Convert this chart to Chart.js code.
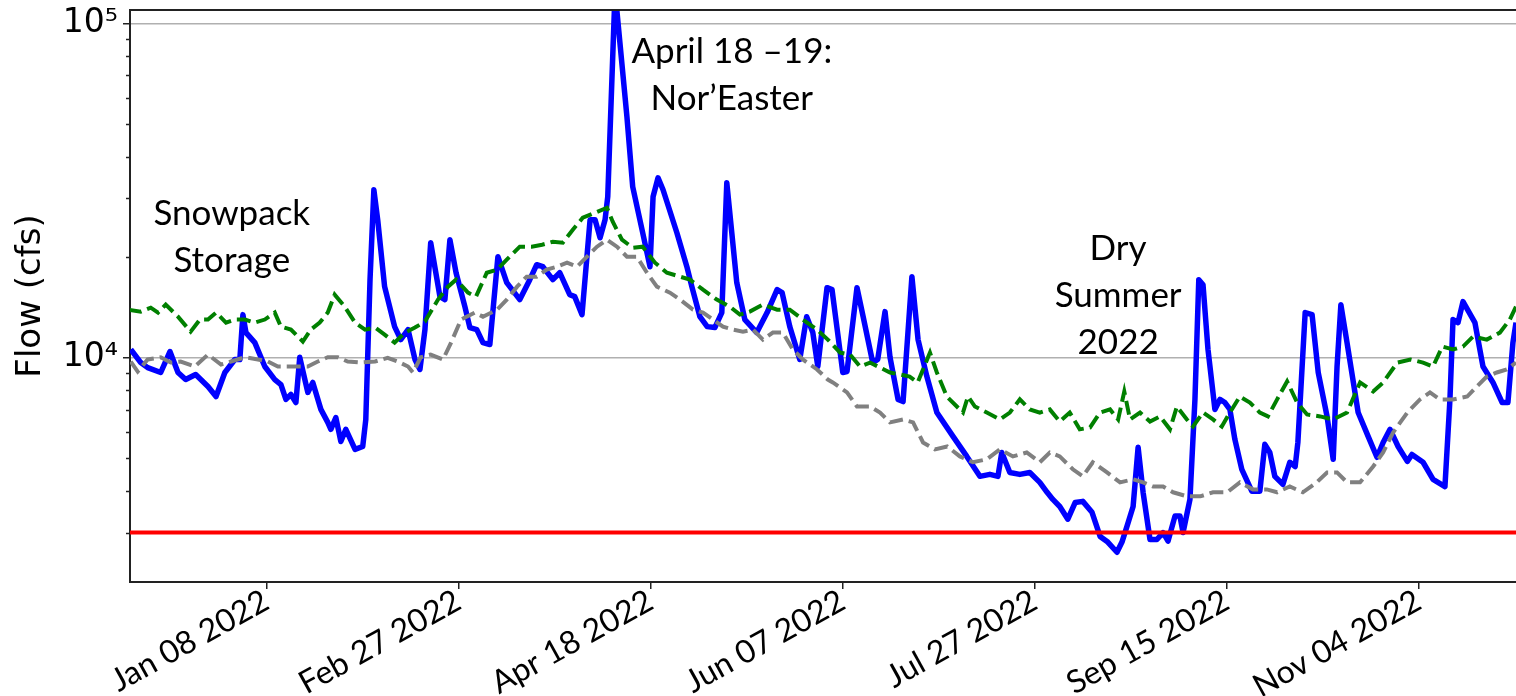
<!DOCTYPE html>
<html>
<head>
<meta charset="utf-8">
<script src="https://cdn.jsdelivr.net/npm/chart.js@4.4.1/dist/chart.umd.min.js"></script>
<style>
  html, body { margin: 0; padding: 0; background: #fff; }
  #wrap { width: 1516px; height: 696px; position: relative; }
</style>
</head>
<body>
<div id="wrap"><canvas id="flowChart"></canvas></div>
<script>
// x values are day numbers counted from Jan 01 2022 (= day 0)

// observed daily flow 2022 (blue)
const flowDays = [-28.3,-25.7,-23.9,-20.5,-18.1,-16.0,-14.0,-11.4,-8.2,-6.1,
    -3.8,-1.2,0.1,0.9,1.7,4.0,6.6,9.2,10.8,12.1,
    13.4,14.7,15.7,17.8,19.1,21.2,23.0,23.8,25.1,26.4,
    27.7,30.1,32.1,32.9,34.0,35.0,36.0,37.8,40.4,42.0,
    43.9,45.7,47.0,48.3,49.8,52.2,53.5,54.8,56.4,58.7,
    60.0,61.8,63.4,65.2,67.3,69.6,73.0,75.6,77.4,79.0,
    81.6,83.4,86.0,87.3,89.2,91.3,92.6,93.9,95.2,95.9,
    97.8,100.9,102.4,105.0,106.9,107.7,109.0,110.3,113.9,116.5,
    117.8,119.9,121.8,123.8,125.6,126.9,128.2,129.5,131.6,134.7,
    137.4,140.0,141.3,143.3,145.9,147.7,149.3,150.6,153.0,154.3,
    157.1,158.2,160.8,162.4,164.9,166.2,168.1,169.4,171.5,172.8,
    175.1,176.7,179.0,181.6,185.8,189.4,192.8,195.4,197.5,198.5,
    200.6,203.2,205.8,208.4,210.3,211.8,213.6,215.7,217.6,219.6,
    222.0,224.1,226.1,228.5,229.8,231.1,232.7,234.0,235.3,237.1,
    238.9,240.5,241.8,243.6,244.9,245.7,247.5,248.8,249.8,250.9,
    252.2,254.0,255.3,256.6,257.9,259.2,261.0,263.6,265.7,267.0,
    268.3,269.6,271.7,273.5,274.9,275.6,277.5,279.3,280.9,283.2,
    284.8,285.8,286.8,288.4,291.3,293.9,296.2,297.8,299.6,301.7,
    304.1,305.3,308.2,310.8,313.9,315.2,316.0,317.3,318.6,321.7,
    323.8,326.4,328.8,330.3,331.6,332.4,333.5];
const flowCfs = [10600,9680,9350,9040,10440,9040,8610,8920,8210,7660,
    9040,9890,9890,13470,11900,11110,9420,8610,8320,7510,
    7770,7350,10040,7880,8440,7010,6410,6110,6630,5620,
    6110,5320,5430,6540,17140,31840,25900,16330,12400,11340,
    12150,9890,9230,12150,22110,15250,14940,22570,17980,14230,
    12320,12150,11110,10960,20080,16790,14940,17140,19000,18740,
    17140,17980,15460,15250,13470,25900,25900,22880,25900,30340,
    125000,52600,32510,23680,18740,30340,34580,31840,23680,18740,
    16330,13280,12400,12320,13660,33410,23680,16790,13020,11900,
    13660,16000,15670,12400,9890,13280,11900,9420,16220,16000,
    9040,9100,16220,13280,9680,9890,13750,10040,7510,7400,
    17500,11340,8790,6860,5820,5070,4420,4480,4420,5210,
    4540,4480,4540,4240,3960,3770,3590,3290,3690,3720,
    3450,2920,2810,2620,2810,3130,3590,5400,3960,2860,
    2860,3000,2830,3360,3360,3000,3770,7510,17140,16560,
    10590,7010,7510,7350,7010,5700,4640,3990,3990,5510,
    5210,4420,4180,4870,4730,5580,13660,13470,9040,6680,
    4970,9420,14430,11110,6860,5820,5040,5580,6110,5430,
    4900,5140,4870,4330,4120,7510,13020,12750,14730,12750,
    9420,8440,7350,7350,11110,12750,14500];

// historical mean (green dashed)
const meanDays = [-29.1,-25.7,-23.1,-21.2,-19.2,-16.0,-12.7,-10.3,-8.2,-6.1,
    -3.5,-1.2,1.4,4.0,6.6,9.2,10.8,13.4,16.5,18.6,
    20.9,23.0,24.8,27.4,30.1,32.7,35.3,37.8,40.4,43.1,
    45.7,48.3,51.7,54.3,56.4,59.5,61.6,64.4,67.1,69.6,
    73.0,76.1,78.8,81.6,84.2,86.8,89.4,92.6,95.7,97.2,
    99.6,102.4,105.0,108.2,111.3,114.7,117.3,120.7,124.3,127.7,
    130.3,132.9,136.3,140.0,143.3,146.7,150.4,153.2,156.4,159.0,
    161.6,164.2,166.8,169.4,171.9,174.5,176.6,179.8,181.6,184.2,
    186.8,188.4,189.7,191.5,194.6,198.0,200.6,203.2,205.8,208.4,
    211.0,213.6,216.2,218.8,221.5,224.1,226.7,228.8,230.4,231.9,
    234.5,237.1,239.7,242.3,244.1,246.7,248.3,250.9,253.5,255.8,
    257.9,260.5,263.1,265.7,267.8,270.2,272.8,275.4,278.0,281.4,
    284.8,288.4,291.8,295.2,297.8,301.5,304.9,308.2,310.8,313.2,
    316.0,318.6,321.2,324.8,328.2,330.8,332.4,333.5];
const meanCfs = [13940,13750,14130,13660,14430,13280,11980,13020,13020,13660,
    12750,13020,13020,12750,13020,13660,12400,12150,11190,12150,
    12750,13660,15460,14230,12750,12150,12320,11740,11110,11900,
    12320,12840,14940,16330,17140,15670,15250,17980,18360,19670,
    21510,21510,21810,22260,22110,24180,26260,27180,28130,25550,
    22570,21360,21510,19270,17980,17500,17140,16000,14940,14230,
    13470,13750,14430,13940,13940,13020,12150,11340,10370,10230,
    9420,9680,9350,9040,8920,8790,8440,10370,9040,7660,
    7150,6860,7660,7150,6860,6540,6860,7510,7010,6860,
    7010,6450,6860,6110,6190,6860,7010,6540,7930,6540,
    6860,6450,6680,6110,7150,6540,6230,6860,6540,6230,
    6860,7660,7350,6860,6680,7510,8500,7350,6770,6680,
    6540,6860,8440,7930,8440,9680,9890,9680,9420,10810,
    10590,10810,11580,11340,11900,13020,14230,15500];

// historical median (grey dashed)
const medianDays = [-28.3,-26.5,-23.9,-20.5,-17.9,-15.3,-11.6,-8.2,-4.8,-2.2,
    1.4,4.8,7.4,10.0,12.6,15.2,17.8,20.4,23.0,25.6,
    28.2,31.6,35.3,38.6,41.2,43.9,45.2,47.2,49.8,53.0,
    55.1,57.7,61.3,63.4,67.1,69.6,72.3,74.8,77.4,80.0,
    82.7,85.3,87.9,90.5,93.1,95.7,98.3,100.9,103.5,106.1,
    108.7,112.1,114.7,118.1,120.7,123.3,125.9,128.5,131.1,133.7,
    136.3,138.9,141.5,144.1,146.7,150.4,153.2,154.5,158.2,160.8,
    164.2,166.8,169.4,172.8,175.4,178.0,181.1,184.3,187.6,191.0,
    194.6,198.0,201.4,205.0,208.4,211.0,213.6,217.0,219.6,222.2,
    225.9,229.3,232.7,235.3,237.9,240.5,243.1,246.8,250.2,253.5,
    257.2,260.5,263.9,267.5,270.2,273.5,276.9,280.5,283.2,285.8,
    288.4,291.8,295.2,297.8,300.4,304.1,307.4,310.0,312.6,316.0,
    319.7,322.2,324.8,327.4,330.0,332.4,333.5];
const medianCfs = [9750,9100,9890,10040,9680,9750,9420,10230,9550,9750,
    10040,9890,9750,9420,9420,9420,9420,9750,10040,10040,
    9750,9680,9750,10000,9750,9420,9040,10040,10230,9890,
    11110,13020,13660,13280,13940,14940,16330,17500,17500,18360,
    18740,19270,18740,20080,21510,22570,21510,20080,20080,17980,
    16330,15670,14940,13940,13660,13020,12400,12150,11980,12150,
    11340,11900,11900,10590,9890,9230,8610,8440,7880,7150,
    7150,6860,6410,6540,6410,5580,5320,5430,5070,4870,
    4970,5320,5070,5210,4870,5210,5070,4640,4420,4870,
    4540,4240,4330,4240,4120,4120,3960,3850,3850,3960,
    3960,4240,4040,4040,3960,4120,3960,4240,4540,4540,
    4240,4240,4730,5210,5980,6860,7510,7880,7510,7510,
    7660,8210,8790,9040,9230,9680,9900];

// minimum flow threshold (red)
const thresholdDays = [-40, 345];
const thresholdCfs = [3000, 3000];

// axis ticks
const xTickDays = [7, 57, 107, 157, 207, 257, 307];
const yTickValues = [3000, 4000, 5000, 6000, 7000, 8000, 9000, 10000,
    20000, 30000, 40000, 50000, 60000, 70000, 80000, 90000, 100000];
const yMajorValues = [10000, 100000];
const yMajorLabels = ['10\u2074', '10\u2075'];

// text notes in the plot
const noteDays = [-2.0, 128.2, 228.8];
const noteCfs = [25030, 76300, 19670];
const noteLines = [
    ['Snowpack', 'Storage'],
    ['April 18 \u201319:', 'Nor\u2019Easter'],
    ['Dry', 'Summer', '2022']
];

const MONTHS = ['Jan', 'Feb', 'Mar', 'Apr', 'May', 'Jun', 'Jul', 'Aug', 'Sep', 'Oct', 'Nov', 'Dec'];

function dayLabel(d) {
    const dt = new Date(Date.UTC(2022, 0, 1 + d));
    return MONTHS[dt.getUTCMonth()] + ' ' + String(dt.getUTCDate()).padStart(2, '0') + ' ' + dt.getUTCFullYear();
}

function toPoints(days, values) {
    return days.map((d, i) => ({ x: d, y: values[i] }));
}

function isMajor(v) {
    return yMajorValues.includes(v);
}

const AXIS_COLOR = '#222';

// top frame, short minor ticks and the text notes
const extrasPlugin = {
    id: 'extras',
    afterDatasetsDraw(chart) {
        const ctx = chart.ctx;
        const xs = chart.scales.x;
        const ys = chart.scales.y;
        ctx.save();
        ctx.fillStyle = '#000';
        ctx.font = '35px Lato';
        ctx.textAlign = 'center';
        ctx.textBaseline = 'alphabetic';
        noteLines.forEach((lines, i) => {
            const px = xs.getPixelForValue(noteDays[i]);
            const py = ys.getPixelForValue(noteCfs[i]);
            lines.forEach((txt, j) => ctx.fillText(txt, px, py + j * 47));
        });
        ctx.restore();
    },
    afterDraw(chart) {
        const ctx = chart.ctx;
        const area = chart.chartArea;
        const ys = chart.scales.y;
        ctx.save();
        ctx.strokeStyle = AXIS_COLOR;
        ctx.lineWidth = 2;
        ctx.beginPath();
        ctx.moveTo(area.left - 1, area.top);
        ctx.lineTo(area.right, area.top);
        ctx.stroke();

        ctx.lineWidth = 1.5;
        yTickValues.filter(v => !isMajor(v)).forEach(v => {
            const py = Math.round(ys.getPixelForValue(v)) + 0.5;
            ctx.beginPath();
            ctx.moveTo(area.left - 4, py);
            ctx.lineTo(area.left, py);
            ctx.stroke();
        });
        ctx.restore();
    }
};

const ctx = document.getElementById('flowChart').getContext('2d');

const flowChart = new Chart(ctx, {
    type: 'line',
    data: {
        datasets: [
            {
                label: 'Minimum flow',
                data: toPoints(thresholdDays, thresholdCfs),
                borderColor: '#ff0000',
                borderWidth: 4,
                pointRadius: 0,
                order: 0
            },
            {
                label: 'Historical median',
                data: toPoints(medianDays, medianCfs),
                borderColor: '#808080',
                borderWidth: 4,
                borderDash: [14, 6],
                pointRadius: 0,
                order: 1
            },
            {
                label: 'Historical mean',
                data: toPoints(meanDays, meanCfs),
                borderColor: '#008000',
                borderWidth: 4,
                borderDash: [14, 6],
                pointRadius: 0,
                order: 2
            },
            {
                label: 'Flow 2022',
                data: toPoints(flowDays, flowCfs),
                borderColor: '#0000ff',
                borderWidth: 5.5,
                pointRadius: 0,
                borderJoinStyle: 'round',
                order: 3
            }
        ]
    },
    options: {
        responsive: true,
        maintainAspectRatio: false,
        animation: false,
        clip: 0,
        layout: {
            padding: { top: 10, right: 0, bottom: 0, left: 0 }
        },
        plugins: {
            legend: { display: false },
            tooltip: { enabled: false }
        },
        scales: {
            x: {
                type: 'linear',
                min: -28.5,
                max: 332.4,
                afterBuildTicks: (scale) => {
                    scale.ticks = xTickDays.map(d => ({ value: d }));
                },
                afterFit: (scale) => {
                    scale.height = 114;
                    scale.paddingLeft = 0;
                    scale.paddingRight = 0;
                },
                ticks: {
                    autoSkip: false,
                    minRotation: 29,
                    maxRotation: 29,
                    padding: -7,
                    color: '#000',
                    font: { family: 'Lato', size: 32 },
                    callback: (v) => dayLabel(v)
                },
                grid: {
                    drawOnChartArea: false,
                    tickLength: 7,
                    tickColor: AXIS_COLOR,
                    lineWidth: 1.5
                },
                border: { color: AXIS_COLOR, width: 2 }
            },
            y: {
                type: 'logarithmic',
                min: 2134,
                max: 109900,
                afterBuildTicks: (scale) => {
                    scale.ticks = yTickValues.map(v => ({ value: v, major: isMajor(v) }));
                },
                afterFit: (scale) => {
                    scale.width = 130;
                    scale.paddingTop = 0;
                    scale.paddingBottom = 0;
                },
                ticks: {
                    autoSkip: false,
                    padding: 5,
                    color: '#000',
                    font: { family: 'DejaVu Sans', size: 33 },
                    callback: (v) => {
                        const i = yMajorValues.indexOf(v);
                        return i >= 0 ? yMajorLabels[i] : '';
                    }
                },
                grid: {
                    color: (c) => (c.tick && isMajor(c.tick.value)) ? '#b0b0b0' : 'rgba(0,0,0,0)',
                    tickColor: (c) => (c.tick && isMajor(c.tick.value)) ? AXIS_COLOR : 'rgba(0,0,0,0)',
                    lineWidth: 1.5,
                    tickLength: 7
                },
                border: { color: AXIS_COLOR, width: 2 },
                title: {
                    display: true,
                    text: 'Flow (cfs)',
                    color: '#000',
                    font: { family: 'DejaVu Sans', size: 34 },
                    padding: { top: 11, bottom: 0 }
                }
            }
        }
    },
    plugins: [extrasPlugin]
});
</script>
</body>
</html>
